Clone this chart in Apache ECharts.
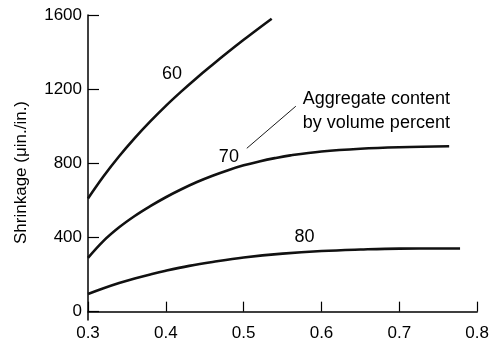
<!DOCTYPE html>
<html>
<head>
<meta charset="utf-8">
<script src="https://cdn.jsdelivr.net/npm/echarts@6/dist/echarts.min.js"></script>
<style>
  html, body { margin: 0; padding: 0; background: #fff; }
  #chart { width: 492px; height: 348px; }
</style>
</head>
<body>
<div id="chart"></div>
<script>
// aggregate 60 % by volume
const curve60 = [
  [0.30, 610], [0.32, 730], [0.34, 838], [0.36, 936], [0.38, 1026],
  [0.40, 1110], [0.42, 1188], [0.44, 1262], [0.46, 1332], [0.48, 1400],
  [0.50, 1466], [0.52, 1530], [0.536, 1580]
];
// aggregate 70 %
const curve70 = [
  [0.30, 290], [0.32, 382], [0.34, 455], [0.36, 516], [0.38, 569],
  [0.40, 617], [0.42, 660], [0.44, 699], [0.46, 733], [0.48, 763],
  [0.50, 789], [0.52, 810], [0.54, 828], [0.56, 843], [0.60, 864],
  [0.65, 879], [0.70, 887], [0.764, 892]
];
// aggregate 80 %
const curve80 = [
  [0.30, 95], [0.32, 126], [0.34, 154], [0.36, 179], [0.38, 201],
  [0.40, 221], [0.43, 247], [0.46, 268], [0.50, 292], [0.55, 313],
  [0.60, 327], [0.65, 335], [0.70, 340], [0.778, 341]
];
const yTicks = [0, 400, 800, 1200, 1600];
const curveLabels = [
  [0.408, 1281, '60'],
  [0.481, 832, '70'],
  [0.578, 400, '80']
];
const noteLines = [
  [0.576, 1146, 'Aggregate content'],
  [0.576, 1016, 'by volume percent']
];
const leader = [[0.504, 881], [0.567, 1108]];

const font = 'Liberation Sans, Arial, sans-serif';
const ink = '#000';

function curve(data) {
  return {
    type: 'line',
    data: data,
    smooth: 0.4,
    symbol: 'none',
    lineStyle: { color: '#111', width: 2.6 },
    silent: true
  };
}

function textLabels(data, position) {
  return {
    type: 'scatter',
    data: data,
    symbolSize: 0,
    silent: true,
    itemStyle: { opacity: 1 },
    label: {
      show: true,
      position: position,
      distance: 0,
      formatter: p => p.data[2],
      color: ink, fontSize: 18, fontFamily: font,
      textBorderWidth: 0
    }
  };
}

const chart = echarts.init(document.getElementById('chart'));
chart.setOption({
  animation: false,
  backgroundColor: '#fff',
  grid: { left: 88, right: 12, top: 15, bottom: 28 },
  xAxis: {
    type: 'value',
    min: 0.3,
    max: 0.8,
    interval: 0.1,
    splitLine: { show: false },
    axisLine: { lineStyle: { color: ink, width: 1.5 } },
    axisTick: { inside: true, length: 10, lineStyle: { color: ink, width: 1.2 } },
    axisLabel: {
      color: ink, fontSize: 17, fontFamily: font, margin: 5,
      formatter: v => v.toFixed(1)
    }
  },
  yAxis: {
    type: 'value',
    min: -45,
    max: 1600,
    name: 'Shrinkage (μin./in.)',
    nameLocation: 'middle',
    nameGap: 58,
    nameTextStyle: { color: ink, fontSize: 17, fontFamily: font, padding: [0, 10, 0, 0] },
    splitLine: { show: false },
    axisLine: { onZero: false, lineStyle: { color: ink, width: 1.5 } },
    axisTick: { inside: true, length: 11, customValues: yTicks, lineStyle: { color: ink, width: 1.2 } },
    axisLabel: {
      color: ink, fontSize: 17, fontFamily: font, margin: 6,
      customValues: yTicks, formatter: v => String(v)
    }
  },
  series: [
    curve(curve60),
    curve(curve70),
    curve(curve80),
    {
      type: 'line',
      data: leader,
      symbol: 'none',
      lineStyle: { color: ink, width: 0.9 },
      silent: true
    },
    textLabels(curveLabels, 'inside'),
    textLabels(noteLines, 'right')
  ]
});
</script>
</body>
</html>
